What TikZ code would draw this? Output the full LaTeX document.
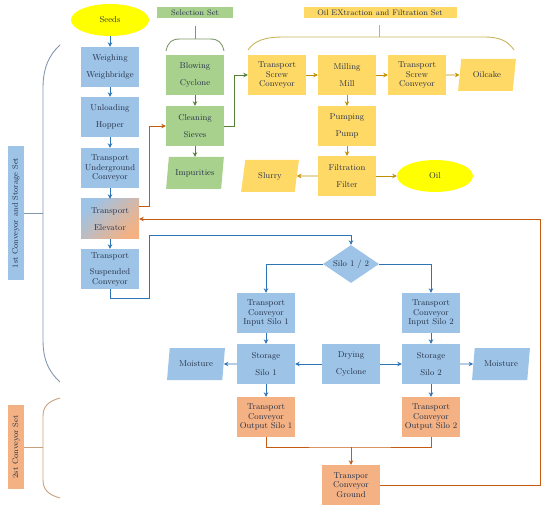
\documentclass[tikz,border=0pt]{standalone}
\usepackage{tikz}
\usetikzlibrary{positioning, calc, shapes.geometric, arrows.meta}

\definecolor{boxblue}{HTML}{9DC3E6}
\definecolor{boxgreen}{HTML}{A9D18E}
\definecolor{boxgold}{HTML}{FFD966}
\definecolor{boxsalmon}{HTML}{F4B183}
\definecolor{seedyellow}{HTML}{FFFF00}
\definecolor{lnblue}{HTML}{2E75B6}
\definecolor{lngreen}{HTML}{548235}
\definecolor{lngold}{HTML}{BF9000}
\definecolor{lnorange}{HTML}{C55A11}
\definecolor{brblue}{HTML}{8497B0}
\definecolor{brgreen}{HTML}{7F9A6A}
\definecolor{brgold}{HTML}{C9B45A}
\definecolor{brsalmon}{HTML}{C9A07A}
\definecolor{txtcol}{HTML}{26324A}

\begin{document}
\begin{tikzpicture}[
    x=1pt, y=-1pt,
    box/.style      = {rectangle, fill=boxblue, minimum width=58pt,
                       minimum height=40pt, inner sep=1pt, align=center,
                       font=\fontsize{8.5}{9.5}\selectfont, text=txtcol},
    para/.style     = {trapezium, trapezium left angle=77,
                       trapezium right angle=103, trapezium stretches=true,
                       minimum width=58pt, minimum height=32pt, inner sep=1pt,
                       font=\fontsize{8.5}{9.5}\selectfont, text=txtcol},
    oval/.style     = {ellipse, fill=seedyellow, minimum width=78pt,
                       minimum height=32pt, inner sep=0pt,
                       font=\fontsize{8.5}{9.5}\selectfont, text=txtcol},
    setlbl/.style   = {rectangle, minimum height=11pt, inner sep=1pt,
                       font=\fontsize{8}{9}\selectfont, text=txtcol},
    barrow/.style   = {line width=0.8pt, draw=lnblue,
                       -{Stealth[length=4.5pt, width=4.5pt]}},
    garrow/.style   = {line width=0.8pt, draw=lngreen,
                       -{Stealth[length=4.5pt, width=4.5pt]}},
    yarrow/.style   = {line width=0.8pt, draw=lngold,
                       -{Stealth[length=4.5pt, width=4.5pt]}},
    oarrow/.style   = {line width=0.8pt, draw=lnorange,
                       -{Stealth[length=4.5pt, width=4.5pt]}},
    oline/.style    = {line width=0.8pt, draw=lnorange},
    brace/.style    = {line width=0.9pt},
]
\useasboundingbox (0,0) rectangle (550,511);

%% ============================================================
%% HEADERS
%% ============================================================
\node[oval]                                  (seeds)  at (110, 20) {Seeds};
\node[setlbl, fill=boxgreen, minimum width=76pt]  (selset) at (195, 13) {Selection Set};
\node[setlbl, fill=boxgold, minimum width=153pt]  (oilset) at (380, 13) {Oil EXtraction and Filtration Set};

%% ============================================================
%% 1st CONVEYOR COLUMN
%% ============================================================
\node[box] (weigh)  at (110, 67)  {Weighing\\[7pt]Weighbridge};
\node[box] (unload) at (110, 117) {Unloading\\[7pt]Hopper};
\node[box] (under)  at (110, 168) {Transport\\Underground\\Conveyor};
\node[box, top color=boxblue, bottom color=boxsalmon, shading angle=45]
           (elev)   at (110, 219) {Transport\\[7pt]Elevator};
\node[box] (susp)   at (110, 269) {Transport\\[7pt]Suspended\\Conveyor};

%% ============================================================
%% SELECTION SET
%% ============================================================
\node[box, fill=boxgreen]  (blow)  at (195, 75)  {Blowing\\[7pt]Cyclone};
\node[box, fill=boxgreen]  (clean) at (195, 126) {Cleaning\\[7pt]Sieves};
\node[para, fill=boxgreen] (impur) at (195, 173) {Impurities};

%% ============================================================
%% OIL EXTRACTION AND FILTRATION SET
%% ============================================================
\node[box, fill=boxgold]  (screw1)  at (277, 75)  {Transport\\Screw\\Conveyor};
\node[box, fill=boxgold]  (mill)    at (347, 75)  {Milling\\[7pt]Mill};
\node[box, fill=boxgold]  (screw2)  at (417, 75)  {Transport\\Screw\\Conveyor};
\node[para, fill=boxgold] (oilcake) at (487, 75)  {Oilcake};
\node[box, fill=boxgold]  (pump)    at (347, 126) {Pumping\\[7pt]Pump};
\node[box, fill=boxgold]  (filt)    at (347, 176) {Filtration\\[7pt]Filter};
\node[para, fill=boxgold] (slurry)  at (270, 176) {Slurry};
\node[oval, minimum width=76pt] (oil) at (435, 176) {Oil};

%% ============================================================
%% STORAGE
%% ============================================================
\node[diamond, fill=boxblue, aspect=1.5, minimum width=56pt, minimum height=38pt,
      inner sep=0pt, font=\fontsize{8.5}{9.5}\selectfont, text=txtcol]
                (silo)   at (351, 264) {Silo 1 / 2};
\node[box]      (in1)    at (266, 313) {Transport\\Conveyor\\Input Silo 1};
\node[box]      (in2)    at (431, 313) {Transport\\Conveyor\\Input Silo 2};
\node[box]      (stor1)  at (266, 364) {Storage\\[7pt]Silo 1};
\node[box]      (dry)    at (351, 364) {Drying\\[7pt]Cyclone};
\node[box]      (stor2)  at (431, 364) {Storage\\[7pt]Silo 2};
\node[para, fill=boxblue] (moist1) at (196, 364) {Moisture};
\node[para, fill=boxblue] (moist2) at (501, 364) {Moisture};

%% 2nd conveyor set
\node[box, fill=boxsalmon] (out1)   at (266, 417) {Transport\\Conveyor\\Output Silo 1};
\node[box, fill=boxsalmon] (out2)   at (431, 417) {Transport\\Conveyor\\Output Silo 2};
\node[box, fill=boxsalmon] (ground) at (351, 485) {Transpor\\Conveyor\\Ground};

%% side labels
\node[setlbl, fill=boxblue, rotate=90, minimum width=133pt, minimum height=16pt]
      (set1) at (16, 213) {1st Conveyor and Storage Set};
\node[setlbl, fill=boxsalmon, rotate=90, minimum width=84pt, minimum height=16pt]
      (set2) at (16, 447) {2st Conveyor Set};

%% ============================================================
%% CONNECTIONS
%% ============================================================
\draw[barrow] (seeds)  -- (weigh);
\draw[barrow] (weigh)  -- (unload);
\draw[barrow] (unload) -- (under);
\draw[barrow] (under)  -- (elev);
\draw[barrow] (elev)   -- (susp);

\draw[garrow] (blow)  -- (clean);
\draw[garrow] (clean) -- (impur);
\draw[garrow] (clean.east) -- ++(10,0) |- (screw1.west);

\draw[oarrow] ([yshift=13pt]elev.east) -- ++(10,0) |- (clean.west);

\draw[yarrow] (screw1) -- (mill);
\draw[yarrow] (mill)   -- (screw2);
\draw[yarrow] (screw2) -- (oilcake);
\draw[yarrow] (mill)   -- (pump);
\draw[yarrow] (pump)   -- (filt);
\draw[yarrow] (filt)   -- (slurry);
\draw[yarrow] (filt)   -- (oil);

%% suspended conveyor -> silo selector
\draw[barrow] (susp.south) -- ++(0,9) -- ++(39,0) -- ++(0,-63) -| (silo.north);
\draw[barrow] (silo.west) -| (in1.north);
\draw[barrow] (silo.east) -| (in2.north);
\draw[barrow] (in1)   -- (stor1);
\draw[barrow] (in2)   -- (stor2);
\draw[barrow] (dry)   -- (stor1);
\draw[barrow] (dry)   -- (stor2);
\draw[barrow] (stor1) -- (moist1);
\draw[barrow] (stor2) -- (moist2);
\draw[barrow] (stor1) -- (out1);
\draw[barrow] (stor2) -- (out2);

%% outputs -> ground -> back to elevator
\coordinate (join) at (351, 447);
\draw[oline]  (out1.south) |- (join) -| (out2.south);
\draw[oarrow] (join) -- (ground.north);
\draw[oarrow] (ground.east) -- ++(160,0) |- (elev.east);

%% ============================================================
%% BRACES
%% ============================================================
\draw[brace, brgreen] (166,51) .. controls (168,42) and (172,39) .. (180,39)
      -- (210,39) .. controls (218,39) and (222,42) .. (224,51);
\draw[brace, brgreen] (195,39) -- (195,26);

\draw[brace, brgold] (248,50) .. controls (254,41) and (264,37) .. (284,37)
      -- (484,37) .. controls (500,37) and (508,41) .. (514,50);
\draw[brace, brgold] (379,37) -- (379,25);

\draw[brace, brblue] (60,45) .. controls (49,55) and (43,68) .. (43,88)
      -- (43,340) .. controls (43,360) and (49,372) .. (60,382);
\draw[brace, brblue] (set1.south) -- (43,213);

\draw[brace, brsalmon] (60,398) .. controls (49,401) and (43,406) .. (43,416)
      -- (43,480) .. controls (43,490) and (49,495) .. (60,498);
\draw[brace, brsalmon] (set2.south) -- (43,447);

\end{tikzpicture}
\end{document}
